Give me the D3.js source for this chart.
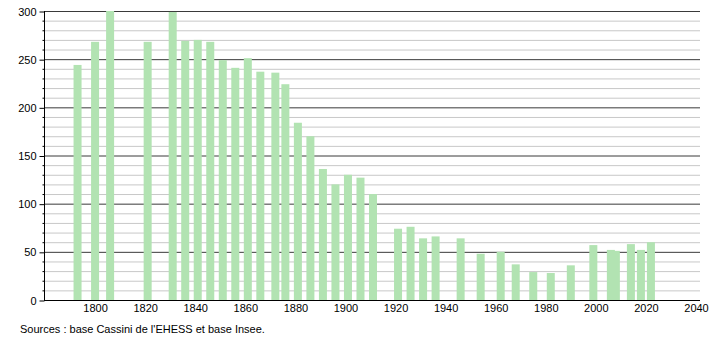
<!DOCTYPE html>
<html>
<head>
<meta charset="utf-8">
<script src="https://cdn.jsdelivr.net/npm/d3@7"></script>
<style>
  body { margin: 0; background: #fff; }
  text { font-family: "Liberation Sans", Arial, sans-serif; }
</style>
</head>
<body>
<svg id="chart" width="710" height="340"></svg>
<script>
// population by census year
var years = [1793, 1800, 1806, 1821, 1831, 1836, 1841, 1846, 1851, 1856,
  1861, 1866, 1872, 1876, 1881, 1886, 1891, 1896, 1901, 1906,
  1911, 1921, 1926, 1931, 1936, 1946, 1954, 1962, 1968, 1975,
  1982, 1990, 1999, 2006, 2008, 2014, 2018, 2022]
var population = [244, 268, 300, 268, 299, 269, 270, 268, 249, 241,
  251, 237, 236, 224, 184, 170, 136, 120, 130, 127,
  110, 74, 76, 64, 66, 64, 48, 50, 37, 29,
  28, 36, 57, 52, 51, 58, 52, 60]
var xTicks = [1800, 1820, 1840, 1860, 1880, 1900, 1920, 1940, 1960, 1980, 2000, 2020, 2040]
var yMajor = [0, 50, 100, 150, 200, 250, 300]
var sourceText = "Sources : base Cassini de l'EHESS et base Insee."

var svg = d3.select('#chart')
var padL = 44, padR = 700, padT = 11, padB = 300

var x = d3.scaleLinear().domain([1779.6, 2041.6]).range([padL, padR])
var y = d3.scaleLinear().domain([0, 300]).range([padB, padT])

var yMinor = d3.range(0, 301, 10).filter(function (v) { return v % 50 != 0 })

// minor grid
svg.append('g').selectAll('line')
  .data(yMinor)
  .enter().append('line')
  .attr('x1', padL).attr('x2', padR)
  .attr('y1', function (d) { return y(d) + 0.5 })
  .attr('y2', function (d) { return y(d) + 0.5 })
  .style('stroke', '#c8c8c8').style('stroke-width', 1)

// major grid
svg.append('g').selectAll('line')
  .data(yMajor.slice(1))
  .enter().append('line')
  .attr('x1', padL).attr('x2', padR)
  .attr('y1', function (d) { return y(d) + 0.5 })
  .attr('y2', function (d) { return y(d) + 0.5 })
  .style('stroke', '#3a3a3a').style('stroke-width', 1)

// bars
svg.append('g').selectAll('rect')
  .data(years)
  .enter().append('rect')
  .attr('x', function (d) { return x(d) - 4 })
  .attr('width', 8)
  .attr('y', function (d, i) { return y(population[i]) })
  .attr('height', function (d, i) { return padB - y(population[i]) })
  .style('fill', '#b2e3b2')

// y axis
var yAxis = d3.axisLeft(y).tickValues(yMajor).tickSize(5).tickPadding(3)
var ga = svg.append('g').attr('transform', 'translate(' + (padL + 0.5) + ',0.5)').call(yAxis)
ga.select('.domain').remove()
ga.selectAll('line').style('stroke', '#000')
ga.selectAll('text').style('font-size', '11px').style('fill', '#000')
ga.selectAll('.minor')
  .data(yMinor)
  .enter().append('line')
  .attr('x1', -2).attr('x2', 0)
  .attr('y1', function (d) { return y(d) }).attr('y2', function (d) { return y(d) })
  .style('stroke', '#000')
svg.append('line')
  .attr('x1', padL + 0.5).attr('x2', padL + 0.5)
  .attr('y1', padT).attr('y2', padB + 1)
  .style('stroke', '#000')

// x axis
var xAxis = d3.axisBottom(x).tickValues(xTicks).tickSize(0).tickPadding(4).tickFormat(d3.format('d'))
var gx = svg.append('g').attr('transform', 'translate(0,' + (padB + 0.5) + ')').call(xAxis)
gx.select('.domain').attr('d', 'M' + padL + ',0H' + padR).style('stroke', '#000')
gx.selectAll('text').style('font-size', '11px').style('fill', '#000')

svg.append('text')
  .attr('x', 20).attr('y', 333)
  .style('font-size', '11px')
  .text(sourceText)
</script>
</body>
</html>
